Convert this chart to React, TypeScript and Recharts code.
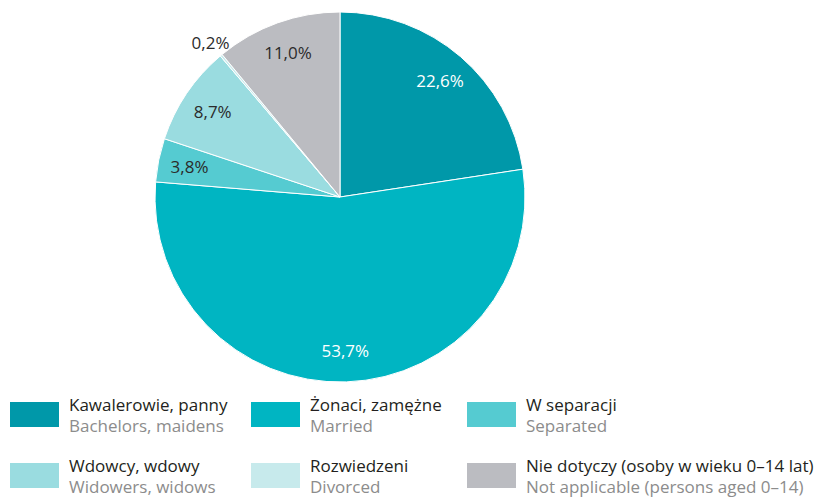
import { PieChart, Pie, Cell, Legend } from 'recharts';

const categories = [
  'Kawalerowie, panny',
  'Żonaci, zamężne',
  'W separacji',
  'Wdowcy, wdowy',
  'Rozwiedzeni',
  'Nie dotyczy (osoby w wieku 0–14 lat)',
];
const categoriesEn = [
  'Bachelors, maidens',
  'Married',
  'Separated',
  'Widowers, widows',
  'Divorced',
  'Not applicable (persons aged 0–14)',
];
const shares = [22.6, 53.7, 3.8, 8.7, 0.2, 11.0];
const colors = ['#0098a9', '#00b5c2', '#55cbd1', '#9adce0', '#c7eaec', '#bbbcc1'];
const labelColors = ['#ffffff', '#ffffff', '#2b2b2b', '#2b2b2b', '#2b2b2b', '#2b2b2b'];

const data = categories.map((name, i) => ({ name, en: categoriesEn[i], value: shares[i] }));

const RAD = Math.PI / 180;
const FONT = '"Open Sans", sans-serif';

const renderLabel = (props: any) => {
  const { cx, cy, midAngle, outerRadius, index, value } = props;
  // tiny slices get their label outside the pie
  const r = value < 1 ? outerRadius * 1.09 : outerRadius * 0.83;
  const x = cx + r * Math.cos(-midAngle * RAD);
  const y = cy + r * Math.sin(-midAngle * RAD);
  return (
    <text
      x={x}
      y={y}
      fill={labelColors[index]}
      textAnchor="middle"
      dominantBaseline="central"
      style={{ fontSize: 17, fontFamily: FONT }}
    >
      {value.toFixed(1).replace('.', ',')}%
    </text>
  );
};

const colLeft = [10, 251, 467];

const renderLegend = () => (
  <div style={{ position: 'relative', width: 832, height: 101, fontFamily: FONT }}>
    {data.map((d, i) => {
      const col = i % 3;
      const row = Math.floor(i / 3);
      return (
        <div
          key={d.name}
          style={{ position: 'absolute', left: colLeft[col], top: row * 61, display: 'flex' }}
        >
          <div style={{ width: 49, height: 25, marginTop: 8, background: colors[i] }} />
          <div style={{ marginLeft: 10, lineHeight: '21px', fontSize: 17 }}>
            <div style={{ color: '#231f20' }}>{d.name}</div>
            <div style={{ color: '#8c8c8c' }}>{d.en}</div>
          </div>
        </div>
      );
    })}
  </div>
);

export default function App() {
  return (
    <div style={{ position: 'absolute', left: 0, top: 0, background: '#fff' }}>
      <PieChart width={832} height={497} margin={{ top: 0, right: 0, bottom: 0, left: 0 }}>
        <Pie
          data={data}
          dataKey="value"
          cx={340}
          cy={197}
          outerRadius={185}
          startAngle={90}
          endAngle={-270}
          stroke="#ffffff"
          strokeWidth={1}
          label={renderLabel}
          labelLine={false}
          isAnimationActive={false}
        >
          {data.map((d, i) => (
            <Cell key={d.name} fill={colors[i]} />
          ))}
        </Pie>
        <Legend
          content={renderLegend}
          wrapperStyle={{ position: 'absolute', left: 0, top: 394, width: 832, height: 101 }}
        />
      </PieChart>
    </div>
  );
}
